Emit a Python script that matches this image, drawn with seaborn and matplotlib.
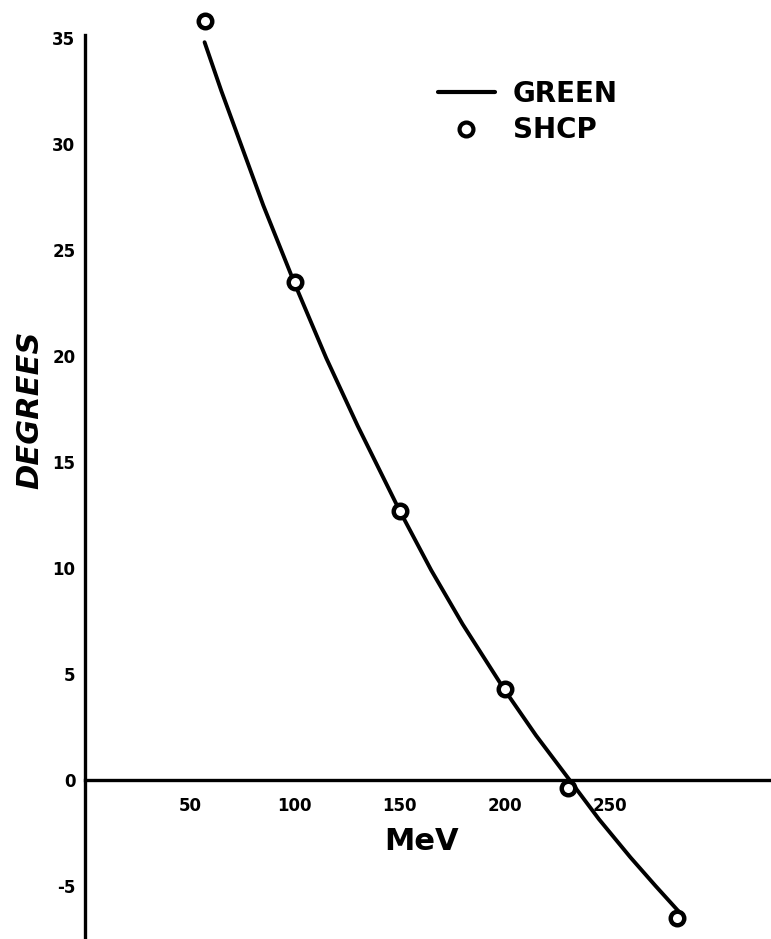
import matplotlib
matplotlib.use("Agg")
import matplotlib.pyplot as plt
import seaborn as sns
import pandas as pd
from matplotlib.lines import Line2D

# GREEN curve (MeV, degrees)
green_mev = [57, 65, 75, 85, 100, 115, 130, 150, 165, 180, 200, 215, 231, 245, 260, 272, 283]
green_deg = [34.8, 32.5, 29.8, 27.1, 23.4, 19.9, 16.7, 12.7, 9.9, 7.35, 4.25, 2.1, 0.0, -1.85, -3.65, -5.0, -6.2]

# SHCP points
shcp_mev = [57, 100, 150, 200, 230, 282]
shcp_deg = [35.8, 23.5, 12.7, 4.3, -0.4, -6.5]

x_ticks = [50, 100, 150, 200, 250]
y_ticks = [-5, 0, 5, 10, 15, 20, 25, 30, 35]

sns.set_style("white")
plt.rcParams["font.family"] = ["DejaVu Sans"]
plt.rcParams["font.weight"] = "bold"
plt.rcParams["text.color"] = "black"

fig = plt.figure(figsize=(7.71, 9.39), dpi=100)
ax = fig.add_axes([85 / 771, 0.0, 1 - 85 / 771, 1 - 35 / 939])

green = pd.DataFrame({"MeV": green_mev, "deg": green_deg})
shcp = pd.DataFrame({"MeV": shcp_mev, "deg": shcp_deg})

sns.lineplot(data=green, x="MeV", y="deg", sort=False, color="black", lw=2.8, ax=ax, zorder=3)
sns.scatterplot(data=shcp, x="MeV", y="deg", marker="o", s=95, facecolor="white",
                edgecolor="black", linewidth=3.2, ax=ax, zorder=4, clip_on=False)

ax.set_xlim(0, 327)
ax.set_ylim(-7.5, 35.14)

for s in ["top", "right"]:
    ax.spines[s].set_visible(False)
ax.spines["left"].set_position(("data", 0))
ax.spines["bottom"].set_position(("data", 0))
for s in ["left", "bottom"]:
    ax.spines[s].set_linewidth(2.4)
    ax.spines[s].set_color("black")

ax.set_xticks(x_ticks)
ax.set_yticks(y_ticks)
ax.set_xticklabels([str(v) for v in x_ticks], fontsize=12, fontweight="bold")
ax.set_yticklabels([str(v) for v in y_ticks], fontsize=12, fontweight="bold")
ax.tick_params(axis="x", direction="out", length=4, width=2, pad=8, colors="black")
ax.tick_params(axis="y", direction="out", length=5, width=2, pad=2, colors="black")

ax.set_xlabel("")
ax.set_ylabel("")
fig.text(422 / 771, 1 - 842 / 939, "MeV", fontsize=22, fontweight="bold", ha="center",
         va="center", color="black")
fig.text(30 / 771, 1 - 410 / 939, "DEGREES", fontsize=22, fontweight="bold", ha="center",
         va="center", rotation=90, style="italic", color="black")

handles = [Line2D([0], [0], color="black", lw=3),
           Line2D([0], [0], marker="o", ls="none", markersize=10, markerfacecolor="white",
                  markeredgecolor="black", markeredgewidth=3)]
leg = ax.legend(handles, ["GREEN", "SHCP"], loc="upper left", bbox_to_anchor=(424 / 771, 1 - 66 / 939),
                bbox_transform=fig.transFigure, frameon=False, borderpad=0, handlelength=2.05,
                handletextpad=0.65, labelspacing=0.3, prop={"size": 20, "weight": "bold"})
for t in leg.get_texts():
    t.set_color("black")

fig.savefig("out.png", dpi=100, facecolor="white")
